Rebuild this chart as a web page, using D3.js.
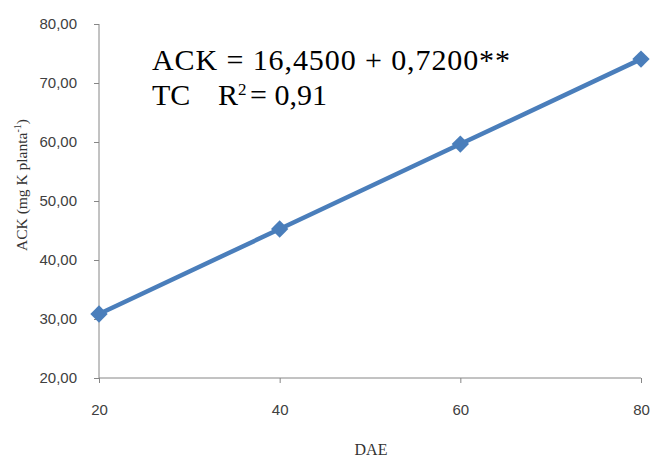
<!DOCTYPE html>
<html><head><meta charset="utf-8">
<script src="https://cdn.jsdelivr.net/npm/d3@7"></script>
<style>body{margin:0;background:#fff}svg{display:block}
.serif{font-family:"Liberation Serif","Times New Roman","DejaVu Serif",serif}
.sans{font-family:"Liberation Sans",Arial,sans-serif}</style>
</head><body>
<script>
const days = [20, 40, 60, 80];
const ack = [30.85, 45.25, 59.65, 74.05];
const yTicks = [20, 30, 40, 50, 60, 70, 80];
const xTicks = [20, 40, 60, 80];
const eqLine1 = "ACK = 16,4500 + 0,7200**";

const W = 650, H = 455;
const svg = d3.select("body").append("svg").attr("width", W).attr("height", H);
const x = d3.scaleLinear().domain([20, 80]).range([99, 641]);
const y = d3.scaleLinear().domain([20, 80]).range([378, 24]);
const fmt = v => d3.format(".2f")(v).replace(".", ",");

const yAxis = svg.append("g").attr("transform", "translate(99,0)")
  .call(d3.axisLeft(y).tickValues(yTicks).tickFormat(fmt).tickSize(5).tickPadding(17));
const xAxis = svg.append("g").attr("transform", "translate(0,378)")
  .call(d3.axisBottom(x).tickValues(xTicks).tickFormat(d3.format("d")).tickSize(5).tickPadding(21));
[yAxis, xAxis].forEach(g => {
  g.attr("font-family", null).attr("font-size", null);
  g.selectAll("path,line").attr("stroke", "#868686");
  g.select(".domain").attr("d", null);
  g.selectAll("text").attr("fill", "#404040").attr("class", "sans").style("font-size", "15px");
});
svg.append("line").attr("x1", 99).attr("x2", 99).attr("y1", y(80)).attr("y2", y(20)).attr("stroke", "#868686");
svg.append("line").attr("x1", 99).attr("x2", 641).attr("y1", y(20)).attr("y2", y(20)).attr("stroke", "#868686");

const pts = days.map((d, i) => [d, ack[i]]);
svg.append("path").datum(pts)
  .attr("d", d3.line().x(d => x(d[0])).y(d => y(d[1])))
  .attr("fill", "none").attr("stroke", "#4a7ebb").attr("stroke-width", 4.5);
svg.selectAll(".m").data(pts).enter().append("path")
  .attr("transform", d => `translate(${x(d[0])},${y(d[1])}) rotate(45)`)
  .attr("d", d3.symbol(d3.symbolSquare, 150)())
  .attr("fill", "#4a7ebb");

svg.append("text").attr("x", 152).attr("y", 70)
  .attr("class", "serif").attr("textLength", 358)
  .style("font-size", "30px").attr("fill", "#000")
  .text(eqLine1);
const t2 = svg.append("text").attr("x", 152).attr("y", 105)
  .attr("class", "serif").style("font-size", "30px").attr("fill", "#000");
t2.append("tspan").text("TC");
t2.append("tspan").attr("x", 218).text("R");
t2.append("tspan").attr("dy", -10).style("font-size", "17px").text("2");
t2.append("tspan").attr("x", 250).attr("dy", 10).text("= 0,91");

svg.append("text").attr("x", 371).attr("y", 455)
  .attr("text-anchor", "middle").attr("class", "serif")
  .style("font-size", "16px").attr("fill", "#333")
  .text("DAE");

const yt = svg.append("text").attr("transform", "translate(27,185) rotate(-90)")
  .attr("text-anchor", "middle").attr("class", "serif")
  .style("font-size", "15.5px").attr("fill", "#333");
yt.append("tspan").text("ACK (mg K planta");
yt.append("tspan").attr("dy", -6).style("font-size", "10px").text("-1");
yt.append("tspan").attr("dy", 6).text(")");
</script>
</body></html>
